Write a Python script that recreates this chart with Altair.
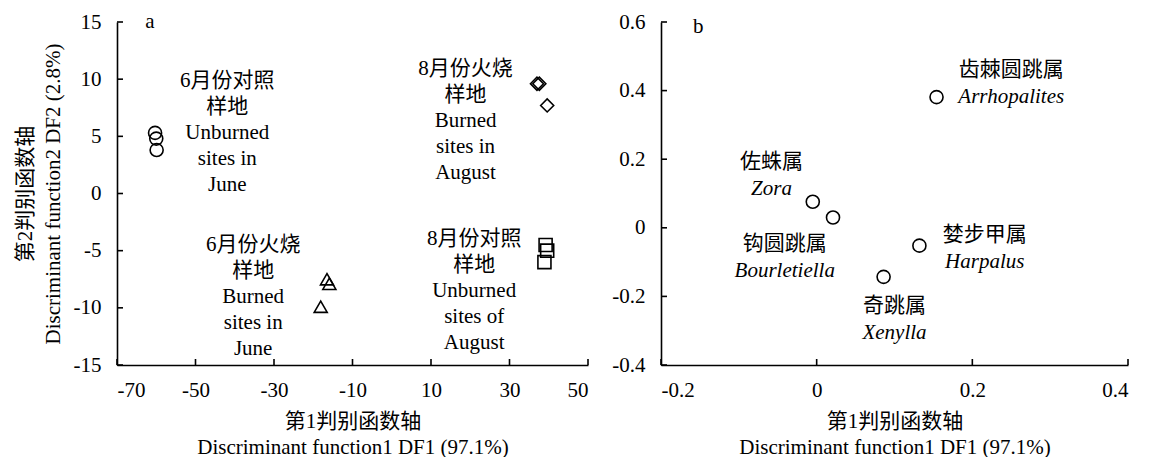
import altair as alt
import pandas as pd

FONT = "Liberation Serif, Times New Roman, Noto Sans CJK SC"
FS = 21

# ---------------- Panel a data ----------------
groups_a = ["June unburned", "June burned", "August burned", "August unburned"]
june_unburned_x = [-60.3, -60.0, -59.9]
june_unburned_y = [5.3, 4.8, 3.8]
june_burned_x = [-16.5, -15.9, -18.1]
june_burned_y = [-7.5, -7.9, -9.9]
aug_burned_x = [37.0, 37.6, 39.6]
aug_burned_y = [9.6, 9.6, 7.7]
aug_unburned_x = [39.2, 39.6, 38.9]
aug_unburned_y = [-4.5, -5.0, -6.0]

label_a_text = [
    "6月份对照\n样地\nUnburned\nsites in\nJune",
    "8月份火烧\n样地\nBurned\nsites in\nAugust",
    "6月份火烧\n样地\nBurned\nsites in\nJune",
    "8月份对照\n样地\nUnburned\nsites of\nAugust",
]
# position of the first line of each label block
label_a_x = [-41.9, 18.8, -35.3, 21.0]
label_a_y = [9.84, 10.89, -4.51, -3.98]

xticks_a = [-70, -50, -30, -10, 10, 30, 50]
yticks_a = [-15, -10, -5, 0, 5, 10, 15]

# ---------------- Panel b data ----------------
genus_cn = ["齿棘圆跳属", "佐蛛属", "钩圆跳属", "婪步甲属", "奇跳属"]
genus_latin = ["Arrhopalites", "Zora", "Bourletiella", "Harpalus", "Xenylla"]
genus_x = [0.154, -0.005, 0.021, 0.132, 0.086]
genus_y = [0.381, 0.076, 0.030, -0.052, -0.143]
genus_label_x = [0.250, -0.058, -0.041, 0.216, 0.100]
genus_label_y = [0.422, 0.152, -0.088, -0.059, -0.267]

xticks_b = [-0.2, 0.0, 0.2, 0.4]
yticks_b = [-0.4, -0.2, 0.0, 0.2, 0.4, 0.6]

WA, WB, H = 471, 467, 343
TICK = 6
SW = 1.6

# ---------------- build tables ----------------
rows = []
for g, xs, ys in [
    (groups_a[0], june_unburned_x, june_unburned_y),
    (groups_a[1], june_burned_x, june_burned_y),
    (groups_a[2], aug_burned_x, aug_burned_y),
    (groups_a[3], aug_unburned_x, aug_unburned_y),
]:
    for x, y in zip(xs, ys):
        rows.append({"group": g, "x": x, "y": y})
df_a = pd.DataFrame(rows)
df_a_lab = pd.DataFrame({"text": label_a_text, "x": label_a_x, "y": label_a_y})

df_b = pd.DataFrame({"cn": genus_cn, "latin": genus_latin, "x": genus_x, "y": genus_y,
                     "lx": genus_label_x, "ly": genus_label_y})

minus_fix = "replace(datum.label, '\u2212', '-')"


def panel(df_pts, dom_x, dom_y, xt, yt, x_title, y_title, x_label_expr, y_label_expr,
          shape_enc, size, letter, letter_x, letter_y, text_layers, W):
    xs = alt.Scale(domain=dom_x, nice=False, zero=False)
    ys = alt.Scale(domain=dom_y, nice=False, zero=False)
    x_axis = alt.Axis(values=xt, title=x_title, labelExpr=x_label_expr, ticks=False,
                      tickSize=0, labelPadding=14, titlePadding=10, titleLineHeight=26)
    y_kwargs = dict(values=yt, labelExpr=y_label_expr, ticks=False, tickSize=0,
                    labelPadding=16)
    if y_title is not None:
        y_axis = alt.Axis(title=y_title, titlePadding=10, titleLineHeight=28, **y_kwargs)
    else:
        y_axis = alt.Axis(title=None, **y_kwargs)

    pts = alt.Chart(df_pts).mark_point(filled=False, color="black", strokeWidth=SW,
                                       size=size, opacity=1).encode(
        x=alt.X("x:Q", scale=xs, axis=x_axis),
        y=alt.Y("y:Q", scale=ys, axis=y_axis),
        **shape_enc,
    )
    xt_df = pd.DataFrame({"v": xt})
    yt_df = pd.DataFrame({"v": yt})
    xticks = alt.Chart(xt_df).mark_rule(color="black", strokeWidth=SW).encode(
        x=alt.X("v:Q", scale=xs), y=alt.value(H), y2=alt.value(H - TICK))
    yticks = alt.Chart(yt_df).mark_rule(color="black", strokeWidth=SW).encode(
        y=alt.Y("v:Q", scale=ys), x=alt.value(0), x2=alt.value(TICK))
    letter_df = pd.DataFrame({"t": [letter], "x": [letter_x], "y": [letter_y]})
    let = alt.Chart(letter_df).mark_text(font=FONT, fontSize=FS, color="black",
                                         align="center", baseline="middle").encode(
        x=alt.X("x:Q", scale=xs), y=alt.Y("y:Q", scale=ys), text="t:N")
    layers = [pts, xticks, yticks, let]
    for tl in text_layers:
        layers.append(tl(xs, ys))
    return alt.layer(*layers).properties(width=W, height=H)


def a_labels(xs, ys):
    return alt.Chart(df_a_lab).mark_text(font=FONT, fontSize=FS, color="black",
                                         align="center", baseline="middle",
                                         lineBreak="\n", lineHeight=26).encode(
        x=alt.X("x:Q", scale=xs), y=alt.Y("y:Q", scale=ys), text="text:N")


def b_cn(xs, ys):
    return alt.Chart(df_b).mark_text(font=FONT, fontSize=FS, color="black",
                                     align="center", baseline="middle", dy=-13.5).encode(
        x=alt.X("lx:Q", scale=xs), y=alt.Y("ly:Q", scale=ys), text="cn:N")


def b_latin(xs, ys):
    return alt.Chart(df_b).mark_text(font=FONT, fontSize=FS, color="black", fontStyle="italic",
                                     align="center", baseline="middle", dy=13.5).encode(
        x=alt.X("lx:Q", scale=xs), y=alt.Y("ly:Q", scale=ys), text="latin:N")


shape_a = dict(shape=alt.Shape("group:N", scale=alt.Scale(
    domain=groups_a, range=["circle", "triangle-up", "diamond", "square"]), legend=None))
shape_b = dict(shape=alt.value("circle"))

panel_a = panel(df_a, [-70, 50], [-15, 15], xticks_a, yticks_a,
                ["第1判别函数轴", "Discriminant function1 DF1 (97.1%)"],
                ["第2判别函数轴", "Discriminant function2 DF2 (2.8%)"],
                minus_fix, minus_fix, shape_a, 170, "a", -61.6, 15.0, [a_labels], WA)

b_xexpr = "datum.value == 0 ? '0' : replace(format(datum.value, '.1f'), '\u2212', '-')"
panel_b = panel(df_b, [-0.2, 0.4], [-0.4, 0.6], xticks_b, yticks_b,
                ["第1判别函数轴", "Discriminant function1 DF1 (97.1%)"],
                None, b_xexpr, b_xexpr, shape_b, 170, "b", -0.152, 0.584, [b_cn, b_latin], WB)

chart = alt.hconcat(panel_a, panel_b, spacing=22).properties(
    padding={"left": 6, "top": 3, "right": 0, "bottom": 0},
    background="white",
).configure_view(stroke=None).configure_axis(
    grid=False, domainColor="black", domainWidth=SW, labelFont=FONT, labelFontSize=FS,
    labelColor="black", titleFont=FONT, titleFontSize=FS, titleFontWeight="normal",
    titleColor="black"
)

chart.save("out.html", embed_options={"renderer": "svg", "actions": False})
